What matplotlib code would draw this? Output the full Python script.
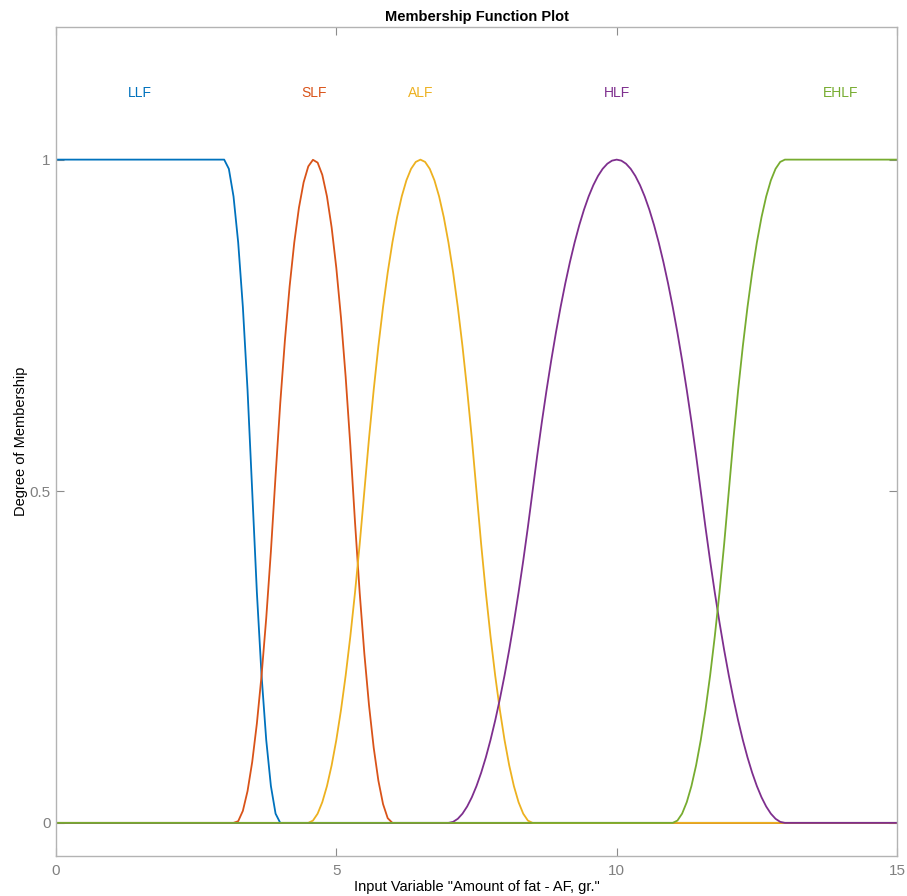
import numpy as np
import matplotlib
matplotlib.use("Agg")
import matplotlib.pyplot as plt

# Функции принадлежности входной переменной (параметры как в FIS)
mf_names = ["LLF", "SLF", "ALF", "HLF", "EHLF"]
mf_types = ["zmf", "pimf", "pimf", "pimf", "smf"]
mf_params = [
    [3.0, 4.0],
    [3.2, 4.6, 4.6, 6.0],
    [4.5, 6.5, 6.5, 8.5],
    [7.0, 10.0, 10.0, 13.0],
    [11.0, 13.0],
]
label_x = [1.5, 4.6, 6.5, 10.0, 14.0]
x_range = [0.0, 15.0]
n_points = 181

colors = ["#0072BD", "#D95319", "#EDB120", "#7E2F8E", "#77AC30"]


def smf(x, a, b):
    y = np.zeros_like(x)
    m = (a + b) / 2.0
    y[x >= b] = 1.0
    i1 = (x > a) & (x <= m)
    y[i1] = 2 * ((x[i1] - a) / (b - a)) ** 2
    i2 = (x > m) & (x < b)
    y[i2] = 1 - 2 * ((b - x[i2]) / (b - a)) ** 2
    return y


def zmf(x, a, b):
    return 1.0 - smf(x, a, b)


def pimf(x, a, b, c, d):
    return np.minimum(smf(x, a, b), zmf(x, c, d))


def eval_mf(kind, x, p):
    return {"zmf": zmf, "smf": smf, "pimf": pimf}[kind](x, *p)


plt.rcParams["font.family"] = ["Liberation Sans", "DejaVu Sans"]

fig = plt.figure(figsize=(9.07, 8.96), dpi=100)
ax = fig.add_axes([0.0617, 0.0446, 0.9273, 0.9253])

x = np.linspace(x_range[0], x_range[1], n_points)
for name, kind, p, lx, col in zip(mf_names, mf_types, mf_params, label_x, colors):
    ax.plot(x, eval_mf(kind, x, p), color=col, lw=1.3)
    ax.text(lx, 1.1, name, color=col, fontsize=10, ha="center", va="center")

ax.set_xlim(x_range)
ax.set_ylim(-0.05, 1.2)
ax.set_xticks([0, 5, 10, 15])
ax.set_yticks([0, 0.5, 1])
ax.set_xticklabels(["0", "5", "10", "15"])
ax.set_yticklabels(["0", "0.5", "1"])

spine_col = "#b3b3b3"
for s in ax.spines.values():
    s.set_color(spine_col)
    s.set_linewidth(1.0)
ax.tick_params(direction="in", length=6, width=0.8, color="#8c8c8c",
               labelcolor="#808080", labelsize=11, top=True, right=True)
ax.tick_params(axis="y", pad=4)
ax.tick_params(axis="x", pad=6)

ax.set_title("Membership Function Plot", fontsize=10.5, fontweight="bold", pad=4)
ax.set_xlabel('Input Variable "Amount of fat - AF, gr."', fontsize=10.5, labelpad=1)
ax.set_ylabel("Degree of Membership", fontsize=10.5, labelpad=1)

fig.savefig("out.png", dpi=100)
